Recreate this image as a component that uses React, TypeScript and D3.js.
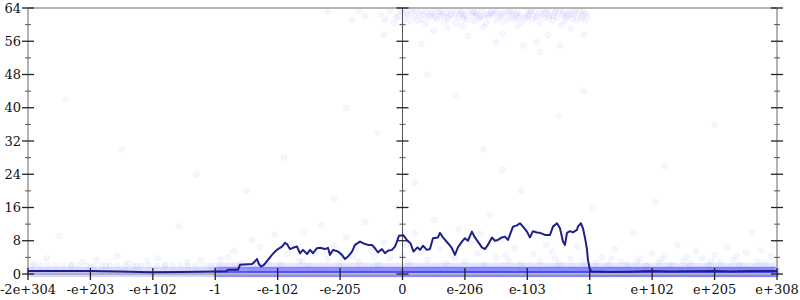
import React from 'react';
import * as d3 from 'd3';

const xLabels = ['-2e+304','-e+203','-e+102','-1','-e-102','-e-205','0','e-206','e-103','1','e+102','e+205','e+308'];
const yMajor = [0, 8, 16, 24, 32, 40, 48, 56, 64];
const yMinor = [4, 12, 20, 28, 36, 44, 52, 60];

// dark line: [position, value]
const lineX = [0,0.513,0.993,1.474,1.955,2.435,2.756,2.996,3.172,3.204,3.364,3.396,3.589,3.621,3.669,3.701,3.733,3.781,3.845,3.909,3.957,4.005,4.069,4.117,4.149,4.197,4.245,4.31,4.358,4.406,4.47,4.518,4.566,4.63,4.678,4.758,4.806,4.838,4.886,4.966,5.03,5.079,5.127,5.191,5.239,5.319,5.367,5.447,5.511,5.559,5.607,5.671,5.719,5.767,5.831,5.879,5.911,5.943,6.016,6.08,6.128,6.176,6.24,6.28,6.328,6.392,6.44,6.488,6.568,6.6,6.648,6.728,6.792,6.84,6.888,6.952,7.0,7.048,7.112,7.16,7.208,7.272,7.32,7.368,7.433,7.481,7.529,7.593,7.641,7.69,7.77,7.834,7.882,7.93,7.994,8.042,8.09,8.155,8.203,8.283,8.363,8.411,8.475,8.523,8.571,8.603,8.635,8.683,8.731,8.795,8.811,8.859,8.891,8.923,8.955,8.971,9.003,9.035,9.324,9.644,9.981,10.285,10.606,10.99,11.246,11.567,12];
const lineY = [0.75,0.72,0.7,0.6,0.45,0.5,0.55,0.6,0.65,1.0,1.0,2.2,2.4,2.8,3.6,2.4,1.8,2.2,3.4,4.6,5.4,6.0,6.6,7.5,7.2,6.0,6.3,6.6,5.0,5.8,4.8,5.8,5.0,6.2,6.3,6.0,6.3,4.6,5.8,5.4,4.6,3.6,4.2,5.4,7.0,7.8,7.4,7.0,7.0,6.2,5.2,6.0,5.0,5.6,5.8,6.6,7.8,9.2,9.3,8.0,7.4,5.4,6.4,5.8,6.8,5.8,6.0,8.6,8.8,9.9,8.8,7.4,6.2,4.6,6.4,7.8,8.6,8.0,10.2,8.8,7.8,6.4,6.0,7.0,8.8,8.0,8.2,8.8,9.0,8.2,11.4,11.7,12.2,11.4,10.2,8.8,10.3,10.0,9.9,9.4,9.4,11.4,12.2,11.0,7.8,7.0,9.9,10.3,10.0,10.6,11.4,12.2,11.0,8.8,6.0,3.4,1.0,0.6,0.5,0.55,0.7,0.6,0.65,0.75,0.6,0.7,0.7];

// top cluster of samples
const topPoints: [number, number][] = [
  [5.65,62.5],[5.72,61.2],[5.8,63.1],[5.86,60.4],[5.93,62.0],[5.98,63.4],[6.03,61.5],[6.07,62.8],[6.12,60.9],[6.15,63.2],
  [6.2,62.1],[6.24,61.0],[6.29,63.5],[6.33,62.4],[6.37,60.2],[6.41,61.8],[6.46,63.0],[6.5,62.6],[6.55,61.3],[6.58,63.3],
  [6.62,62.0],[6.67,60.7],[6.7,62.9],[6.74,61.6],[6.79,63.4],[6.83,62.2],[6.86,60.5],[6.9,61.9],[6.95,63.1],[6.99,62.5],
  [7.03,61.1],[7.07,63.6],[7.11,62.3],[7.14,60.9],[7.18,62.8],[7.22,61.4],[7.27,63.2],[7.3,62.0],[7.34,60.3],[7.38,61.7],
  [7.42,63.0],[7.46,62.4],[7.5,61.0],[7.53,63.5],[7.57,62.1],[7.61,60.8],[7.65,62.9],[7.69,61.5],[7.73,63.3],[7.77,62.6],
  [7.8,61.2],[7.84,63.0],[7.88,62.2],[7.92,60.6],[7.96,61.9],[8.0,63.4],[8.04,62.7],[8.08,61.3],[8.12,63.1],[8.16,62.0],
  [8.2,60.4],[8.24,62.5],[8.28,61.6],[8.32,63.5],[8.36,62.3],[8.4,61.0],[8.44,62.9],[8.48,61.8],[8.52,63.2],[8.56,62.4],
  [8.6,60.9],[8.64,62.1],[8.68,63.4],[8.72,61.4],[8.76,62.8],[8.8,61.1],[8.84,63.0],[8.88,62.2],[8.92,60.7],[8.96,61.9],
  [5.9,61.7],[6.0,62.9],[6.18,63.6],[6.31,61.2],[6.44,62.2],[6.6,63.0],[6.72,61.9],[6.88,63.3],[7.0,62.0],[7.16,63.0],
  [7.25,61.8],[7.4,62.7],[7.55,62.0],[7.7,63.1],[7.86,61.6],[8.02,62.2],[8.14,61.8],[8.3,62.9],[8.46,63.4],[8.62,61.7],
  [8.78,63.6],[8.94,62.6],[5.7,57.5],[6.3,55.3],[6.72,59.2],[7.05,57.3],[7.5,55.8],[7.6,57.7],[7.94,54.9],[8.15,55.8],
  [8.2,53.4],[8.33,57.5],[8.52,55.0],[8.9,57.5],[6.5,58.5],[7.3,59.5],[8.7,59.0],[5.4,62.0],[5.2,61.0],[4.8,63.0],
  [6.09,62.4],[6.26,62.7],[6.52,61.9],[6.77,62.5],[6.97,61.5],[7.12,62.9],[7.36,62.5],[7.6,62.6],[7.82,62.4],[7.99,61.6],
  [8.22,63.0],[8.42,62.2],[8.58,63.0],[8.74,62.3],[8.86,61.6],[6.38,63.0],[6.64,62.5],[6.93,62.7],[7.2,62.2],[7.48,63.0],
  [7.75,61.9],[8.06,63.2],[8.34,61.8],[8.66,62.6],[8.9,63.2],[6.01,60.0],[6.95,59.8],[7.85,59.6],[8.55,59.9],[5.3,63.2]
];

// scattered samples
const sparsePoints: [number, number][] = [
  [0.1,2.5],[0.3,3.8],[0.5,9.1],[0.7,2.2],[0.87,2.9],[1.0,1.8],[1.1,3.4],[1.25,2.0],[1.43,4.3],[1.6,2.6],
  [1.75,1.9],[1.9,3.1],[2.08,3.8],[2.2,2.2],[2.42,11.5],[2.55,2.8],[2.76,3.4],[2.9,2.0],[3.08,3.4],[3.2,4.0],
  [3.3,5.5],[3.4,2.5],[3.59,8.2],[3.72,6.5],[3.85,3.0],[3.95,9.5],[4.05,2.4],[4.15,4.8],[4.25,7.2],[4.35,3.2],
  [4.42,10.0],[4.5,2.0],[4.6,5.0],[4.7,11.8],[4.8,3.6],[4.9,6.8],[5.0,2.6],[5.1,8.8],[5.2,4.2],[5.3,3.0],
  [5.4,12.5],[5.5,5.6],[5.6,2.3],[5.7,7.6],[5.8,3.8],[5.9,16.0],[6.0,4.4],[6.1,2.8],[6.2,9.8],[6.3,5.2],
  [6.4,3.4],[6.5,13.0],[6.6,6.0],[6.7,2.5],[6.8,4.6],[6.9,10.8],[7.0,3.0],[7.1,7.4],[7.2,5.0],[7.3,2.2],
  [7.4,14.0],[7.5,4.0],[7.6,8.4],[7.7,3.2],[7.8,6.2],[7.9,2.6],[8.0,11.2],[8.1,4.8],[8.2,3.0],[8.3,7.0],
  [8.4,5.4],[8.5,2.4],[8.6,9.2],[8.7,3.6],[8.8,6.6],[8.9,2.8],[4.4,2.9],[5.25,6.0],[6.05,7.0],[6.85,3.8],
  [7.65,4.6],[8.45,3.8],[7.25,9.6],[5.55,4.2],
  [3.5,20],[4.1,28],[4.9,18],[5.6,34],[6.2,22],[6.85,43],[7.3,30],[7.9,20],[8.5,38],[6.4,48],
  [7.6,25],[5.1,40],[8.9,44],[2.7,24],[10.2,26],[11.0,36],[1.5,30],[0.6,42],
  [9.05,15.9],[9.1,2.6],[9.2,4.0],[9.3,2.2],[9.4,6.0],[9.5,3.0],[9.6,2.4],[9.7,10.0],[9.8,3.6],[9.9,2.0],
  [10.0,5.0],[10.05,17.3],[10.1,2.8],[10.2,4.4],[10.3,2.2],[10.4,7.0],[10.5,3.2],[10.6,2.5],[10.7,5.6],[10.8,3.8],
  [10.9,2.2],[11.0,4.6],[11.1,2.8],[11.2,6.4],[11.3,3.4],[11.4,2.3],[11.5,5.2],[11.6,9.9],[11.7,3.0],[11.8,2.5],
  [11.9,4.2],[9.35,3.6],[9.75,2.8],[10.15,3.6],[10.55,4.2],[10.95,3.0],[11.35,4.4],[11.75,5.6]
];

// dense band of samples at values 0, 1 and 2: number of samples per half-unit segment
const bandValues = [0, 1, 2];
const bandCounts0 = [22,22,22,22,22,24,70,76,76,76,76,76,80,80,80,80,80,80,86,86,86,86,86,86];
const bandCounts1 = [16,16,16,16,16,18,56,60,60,60,60,60,64,64,64,64,64,64,66,66,66,66,66,66];
const bandCounts2 = [4,4,4,4,4,4,12,12,12,12,12,12,14,14,14,14,14,14,12,12,12,12,12,12];

const W = 800, H = 300;
const L = 28, R = 777, T = 8, B = 274;

export default function App() {
  const x = d3.scaleLinear().domain([0, 12]).range([L, R]);
  const y = d3.scaleLinear().domain([0, 64]).range([B, T]);
  const line = d3.line<number>().x((_, i) => x(lineX[i])).y((d) => y(d));

  const bandPts: [number, number][] = [];
  [bandCounts0, bandCounts1, bandCounts2].forEach((counts, r) => {
    counts.forEach((n, s) => {
      for (let k = 0; k < n; k++) {
        bandPts.push([s * 0.5 + ((k + 0.5) / n) * 0.5, bandValues[r]]);
      }
    });
  });
  const allPts = [...bandPts, ...sparsePoints, ...topPoints];

  const font = "'DejaVu Serif', serif";
  const axisGray = '#b3b3b3';
  const midX = x(6);

  return (
    <svg width={W} height={H} style={{ position: 'absolute', left: 0, top: 0, background: '#fff' }}>
      <g>
        {allPts.map((p, i) => (
          <circle key={i} cx={x(p[0])} cy={y(p[1])} r={3}
            fill="#0000ff" fillOpacity={0.035} stroke="#0000ff" strokeOpacity={0.03} strokeWidth={1} />
        ))}
      </g>
      {/* frame */}
      <line x1={L} x2={R} y1={T} y2={T} stroke={axisGray} strokeWidth={2} />
      <line x1={L} x2={R} y1={B} y2={B} stroke={axisGray} strokeWidth={2} />
      <line x1={L} x2={L} y1={T} y2={B} stroke={axisGray} strokeWidth={2} />
      <line x1={R} x2={R} y1={T} y2={B} stroke={axisGray} strokeWidth={2} />
      <line x1={midX} x2={midX} y1={T} y2={B} stroke="#555" strokeWidth={1} />
      {/* y ticks */}
      {[L, midX, R].map((ax, j) => (
        <g key={j}>
          {yMajor.map((v) => (
            <line key={'M' + v} x1={ax - 6} x2={ax + 6} y1={y(v)} y2={y(v)} stroke="#222" strokeWidth={1.3} />
          ))}
          {yMinor.map((v) => (
            <line key={'m' + v} x1={ax - 3} x2={ax + 3} y1={y(v)} y2={y(v)} stroke="#555" strokeWidth={1} />
          ))}
        </g>
      ))}
      {yMajor.map((v) => (
        <text key={v} x={L - 7} y={y(v)} dy="0.35em" textAnchor="end" fontFamily={font} fontSize={13} fill="#111">{v}</text>
      ))}
      {/* x ticks */}
      {xLabels.map((lab, i) => (
        <g key={i}>
          <line x1={x(i)} x2={x(i)} y1={B - 6} y2={B + 6} stroke="#222" strokeWidth={1.3} />
          <text x={x(i)} y={B + 20} textAnchor="middle" fontFamily={font} fontSize={13} fill="#111">{lab}</text>
        </g>
      ))}
      <path d={line(lineY) || ''} fill="none" stroke="#1f1f8c" strokeWidth={2} strokeLinejoin="round" />
    </svg>
  );
}
